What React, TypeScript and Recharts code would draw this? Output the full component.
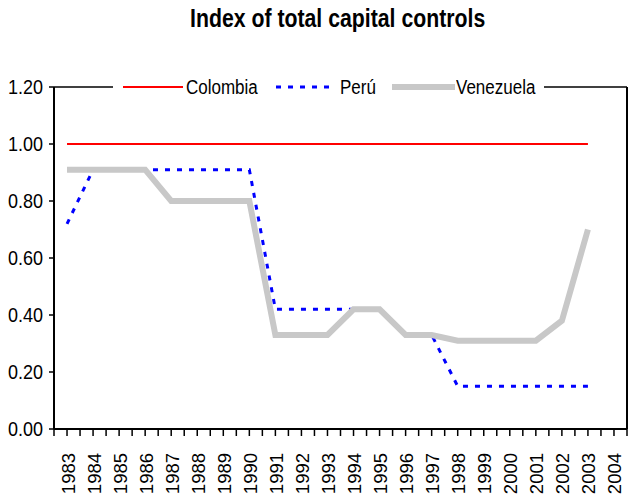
import { LineChart, Line, XAxis, YAxis, Legend, ReferenceLine } from 'recharts';

const years = [
  '1983', '1984', '1985', '1986', '1987', '1988', '1989', '1990', '1991', '1992', '1993',
  '1994', '1995', '1996', '1997', '1998', '1999', '2000', '2001', '2002', '2003', '2004',
];
const colombia = [1, 1, 1, 1, 1, 1, 1, 1, 1, 1, 1, 1, 1, 1, 1, 1, 1, 1, 1, 1, 1, null];
const peru = [0.72, 0.91, 0.91, 0.91, 0.91, 0.91, 0.91, 0.91, 0.42, 0.42, 0.42, 0.42, 0.42, 0.33, 0.33, 0.15, 0.15, 0.15, 0.15, 0.15, 0.15, null];
const venezuela = [0.91, 0.91, 0.91, 0.91, 0.8, 0.8, 0.8, 0.8, 0.33, 0.33, 0.33, 0.42, 0.42, 0.33, 0.33, 0.31, 0.31, 0.31, 0.31, 0.38, 0.7, null];
const yTicks = [0, 0.2, 0.4, 0.6, 0.8, 1.0, 1.2];

const data = years.map((year, i) => ({
  i,
  year,
  Colombia: colombia[i],
  Perú: peru[i],
  Venezuela: venezuela[i],
}));

// ticks at category centres and boundaries
const xTicks = years.flatMap((_, i) => [i - 0.5, i]).concat(years.length - 0.5);

const FONT = '"Liberation Sans", Arial, sans-serif';

function YearTick(props: any) {
  const { x, y, payload } = props;
  const v = payload.value;
  if (!Number.isInteger(v)) return <g />;
  return (
    <text
      transform={`translate(${x + 1},${y}) rotate(-90)`}
      textAnchor="end"
      dy="0.35em"
      fontSize={18.5}
      fontFamily={FONT}
      fill="#000"
    >
      {years[v]}
    </text>
  );
}

function ValueTick(props: any) {
  const { x, y, payload } = props;
  return (
    <text
      transform={`translate(${x},${y}) scale(0.9,1)`}
      textAnchor="end"
      dy="0.35em"
      fontSize={20}
      fontFamily={FONT}
      fill="#000"
    >
      {Number(payload.value).toFixed(2)}
    </text>
  );
}

function LegendBox() {
  const text = {
    position: 'absolute' as const,
    top: 0,
    fontSize: 20,
    lineHeight: '20px',
    color: '#000',
    transform: 'scaleX(0.85)',
    transformOrigin: 'left center',
    whiteSpace: 'nowrap' as const,
  };
  return (
    <div style={{ position: 'relative', width: 431, height: 20, background: '#fff', fontFamily: FONT }}>
      <svg width={431} height={20} style={{ position: 'absolute', left: 0, top: 0 }}>
        <line x1={10} x2={70} y1={10} y2={10} stroke="#ff0000" strokeWidth={2} />
        <line x1={163} x2={223} y1={10} y2={10} stroke="#0000ff" strokeWidth={3} strokeDasharray="5 7" />
        <line x1={279} x2={342} y1={10} y2={10} stroke="#c8c8c8" strokeWidth={6} />
      </svg>
      <span style={{ ...text, left: 73 }}>Colombia</span>
      <span style={{ ...text, left: 227 }}>Perú</span>
      <span style={{ ...text, left: 343 }}>Venezuela</span>
    </div>
  );
}

export default function App() {
  return (
    <div style={{ position: 'relative', width: 630, height: 501, background: '#fff' }}>
      <style>{'body { margin: 0; }'}</style>
      <div
        style={{
          position: 'absolute',
          top: 6,
          left: 0,
          width: 676,
          textAlign: 'center',
          fontFamily: FONT,
          fontWeight: 'bold',
          fontSize: 25,
          lineHeight: '25px',
          color: '#000',
        }}
      >
        <span style={{ display: 'inline-block', transform: 'scaleX(0.85)', whiteSpace: 'nowrap' }}>
          Index of total capital controls
        </span>
      </div>
      <LineChart
        width={630}
        height={501}
        data={data}
        margin={{ top: 87, right: 3, left: 0, bottom: 0 }}
        style={{ fontFamily: FONT }}
      >
        <XAxis
          dataKey="i"
          type="number"
          domain={[-0.5, years.length - 0.5]}
          ticks={xTicks}
          interval={0}
          height={72}
          tickSize={7}
          tickMargin={17}
          tick={<YearTick />}
          axisLine={{ stroke: '#000', strokeWidth: 2 }}
          tickLine={{ stroke: '#000', strokeWidth: 1.5 }}
        />
        <YAxis
          domain={[0, 1.2]}
          ticks={yTicks}
          width={54}
          tickSize={5}
          tickMargin={6}
          tick={<ValueTick />}
          axisLine={{ stroke: '#000', strokeWidth: 2 }}
          tickLine={{ stroke: '#000', strokeWidth: 1.5 }}
        />
        <ReferenceLine y={1.2} stroke="#000" strokeWidth={1.5} />
        <ReferenceLine x={years.length - 0.5} stroke="#000" strokeWidth={2} />
        <Line dataKey="Colombia" type="linear" stroke="#ff0000" strokeWidth={2} dot={false} isAnimationActive={false} />
        <Line dataKey="Perú" type="linear" stroke="#0000ff" strokeWidth={3} strokeDasharray="5 7" dot={false} isAnimationActive={false} />
        <Line dataKey="Venezuela" type="linear" stroke="#c8c8c8" strokeWidth={6} dot={false} isAnimationActive={false} />
        <Legend
          layout="horizontal"
          verticalAlign="middle"
          align="center"
          content={<LegendBox />}
          wrapperStyle={{ position: 'absolute', top: 77, left: 113, width: 431, height: 20 }}
        />
      </LineChart>
    </div>
  );
}
